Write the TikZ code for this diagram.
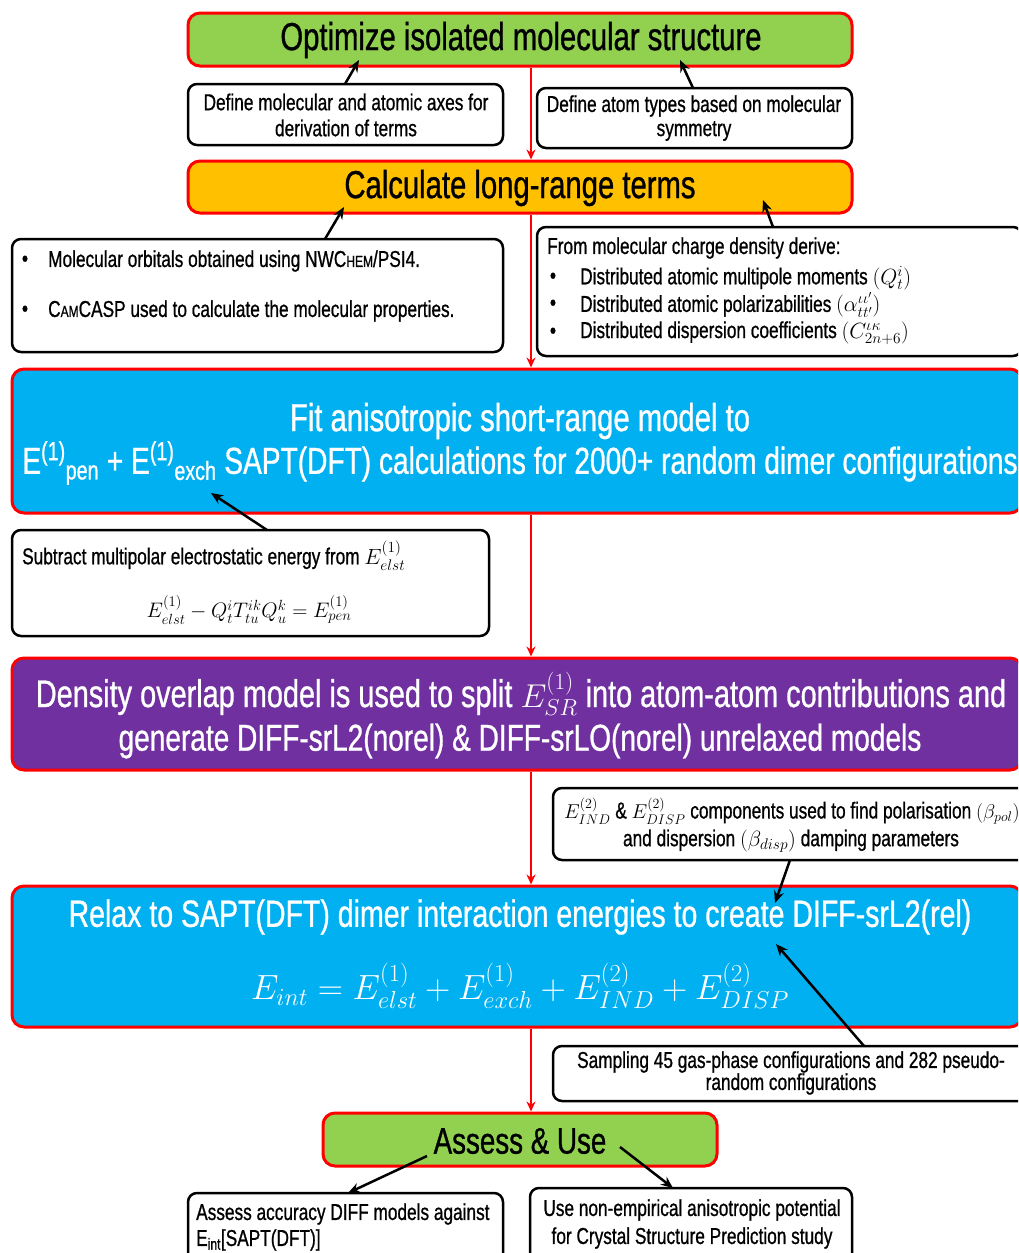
\RequirePackage{fix-cm}
\documentclass[tikz,border=0pt]{standalone}
\usepackage{fontspec}
\setmainfont{Liberation Sans}[FakeStretch=0.75,FakeBold=0.8]
\usepackage{amsmath}
\usetikzlibrary{arrows.meta}
\definecolor{gfill}{HTML}{92D050}
\definecolor{ofill}{HTML}{FFC000}
\definecolor{bfill}{HTML}{00B0F0}
\definecolor{pfill}{HTML}{7030A0}
\definecolor{redl}{HTML}{FF0000}
\newcommand{\mfs}[1]{{\fontsize{22}{22}\selectfont #1}}
\newcommand{\mfss}[1]{{\fontsize{20}{20}\selectfont #1}}
\tikzset{
  mainbox/.style={draw=redl, line width=3pt, rounded corners=12pt, inner sep=0pt},
  notebox/.style={draw=black, line width=2.5pt, fill=white, rounded corners=9pt, inner sep=0pt},
  redarrow/.style={draw=redl, line width=2pt, -{Stealth[length=10pt,width=9pt]}},
  blackarrow/.style={draw=black, line width=2.5pt, -{Stealth[length=12pt,width=10pt]}},
  bigtxt/.style={inner sep=0pt, font=\fontsize{39}{44}\selectfont},
  midtxt/.style={inner sep=0pt, font=\fontsize{38}{42}\selectfont},
  smalltxt/.style={inner sep=0pt, font=\fontsize{23}{26}\selectfont},
}
\begin{document}
\begin{tikzpicture}[x=1pt,y=-1pt]
\useasboundingbox (0,0) rectangle (1018,1253);
\clip (0,0) rectangle (1018,1253);
\fill[white] (0,0) rectangle (1018,1253);

% main boxes
\node[mainbox, fill=gfill, minimum width=664pt, minimum height=53pt] (top) at (520,39.5) {};
\node[mainbox, fill=ofill, minimum width=664pt, minimum height=52pt] (lr) at (520,187) {};
\node[mainbox, fill=bfill, minimum width=1010pt, minimum height=144pt] (fit) at (517,441) {};
\node[mainbox, fill=pfill, minimum width=1010pt, minimum height=112pt] (dom) at (517,714) {};
\node[mainbox, fill=bfill, minimum width=1010pt, minimum height=141pt] (relax) at (517,956.5) {};
\node[mainbox, fill=gfill, minimum width=394pt, minimum height=53pt] (assess) at (520,1139.5) {};

% note boxes
\node[notebox, minimum width=315pt, minimum height=61pt] (axes) at (345.5,114.5) {};
\node[notebox, minimum width=315pt, minimum height=60pt] (types) at (694.5,118) {};
\node[notebox, minimum width=491pt, minimum height=113pt] (lbul) at (257.5,295.5) {};
\node[notebox, minimum width=485pt, minimum height=129pt] (rbul) at (779.5,291.5) {};
\node[notebox, minimum width=477pt, minimum height=106pt] (sub) at (250.5,583) {};
\node[notebox, minimum width=480pt, minimum height=72pt] (e2) at (793,824) {};
\node[notebox, minimum width=480pt, minimum height=55pt] (samp) at (793,1073.5) {};
\node[notebox, minimum width=315pt, minimum height=72pt] (acc) at (345.5,1229) {};
\node[notebox, minimum width=322pt, minimum height=77pt] (use) at (691,1226.5) {};

% texts in main boxes
\node[bigtxt] (t1) at (521,40) {Optimize isolated molecular structure};
\node[bigtxt] (t2) at (520,188) {Calculate long-range terms};
\node[bigtxt, text=white] (t3a) at (520,421) {Fit anisotropic short-range model to};
\node[bigtxt, text=white, font=\fontsize{37.5}{42}\selectfont] (t3b) at (520,463) {E\textsuperscript{(1)}\textsubscript{pen} + E\textsuperscript{(1)}\textsubscript{exch} SAPT(DFT) calculations for 2000+ random dimer configurations};
\node[midtxt, text=white, font=\fontsize{38.5}{44}\selectfont] (t4a) at (521,694) {Density overlap model is used to split {\fontsize{33}{34}\selectfont$E_{SR}^{(1)}$} into atom-atom contributions and};
\node[midtxt, text=white, font=\fontsize{37.4}{42}\selectfont] (t4b) at (520,741) {generate DIFF-srL2(norel) \& DIFF-srLO(norel) unrelaxed models};
\node[midtxt, text=white] (t5a) at (520,917) {Relax to SAPT(DFT) dimer interaction energies to create DIFF-srL2(rel)};
\node[inner sep=0pt, text=white, font=\fontsize{35}{38}\selectfont] (t5b) at (520,986) {$E_{int} = E^{(1)}_{elst} + E^{(1)}_{exch} + E^{(2)}_{IND} + E^{(2)}_{DISP}$};
\node[bigtxt, font=\fontsize{37}{42}\selectfont] (t6) at (520,1141) {Assess \& Use};

% texts in note boxes
\node[smalltxt] (n1a) at (346,102) {Define molecular and atomic axes for};
\node[smalltxt] (n1b) at (346,128) {derivation of terms};
\node[smalltxt] (n2a) at (694,106) {Define atom types based on molecular};
\node[smalltxt] (n2b) at (694,131) {symmetry};
\node[smalltxt] (b1) at (25,261) {\textbullet};
\node[smalltxt, anchor=west] (n3a) at (48,261) {Molecular orbitals obtained using NWC{\fontsize{16}{18}\selectfont HEM}/PSI4.};
\node[smalltxt] (b2) at (25,311) {\textbullet};
\node[smalltxt, anchor=west] (n3b) at (48,311) {C{\fontsize{16}{18}\selectfont AM}CASP used to calculate the molecular properties.};
\node[smalltxt, anchor=west] (n4) at (547,248) {From molecular charge density derive:};
\node[smalltxt] (b3) at (553,278) {\textbullet};
\node[smalltxt, anchor=west] (n4a) at (580,278) {Distributed atomic multipole moments \mfs{$(Q_t^i)$}};
\node[smalltxt] (b4) at (553,305) {\textbullet};
\node[smalltxt, anchor=west] (n4b) at (580,305) {Distributed atomic polarizabilities \mfs{$(\alpha_{tt'}^{\iota\iota'})$}};
\node[smalltxt] (b5) at (553,333) {\textbullet};
\node[smalltxt, anchor=west] (n4c) at (580,333) {Distributed dispersion coefficients \mfs{$(C_{2n+6}^{\iota\kappa})$}};
\node[smalltxt, anchor=west] (n5a) at (22,556) {Subtract multipolar electrostatic energy from \mfs{$E^{(1)}_{elst}$}};
\node[smalltxt, font=\fontsize{21}{22}\selectfont] (n5b) at (249,610) {$E^{(1)}_{elst} - Q^i_t T^{ik}_{tu} Q^k_u = E^{(1)}_{pen}$};
\node[smalltxt, anchor=west] (n6a) at (564,811) {\mfss{$E^{(2)}_{IND}$} \& \mfss{$E^{(2)}_{DISP}$} components used to find polarisation \mfss{$(\beta_{pol})$}};
\node[smalltxt] (n6b) at (791,841) {and dispersion \mfs{$(\beta_{disp})$} damping parameters};
\node[smalltxt] (n7a) at (791,1062) {Sampling 45 gas-phase configurations and 282 pseudo-};
\node[smalltxt] (n7b) at (791,1084) {random configurations};
\node[smalltxt, anchor=west] (n8a) at (196,1214) {Assess accuracy DIFF models against};
\node[smalltxt, anchor=west] (n8b) at (196,1240) {E\textsubscript{int}[SAPT(DFT)]};
\node[smalltxt] (n9a) at (692,1210) {Use non-empirical anisotropic potential};
\node[smalltxt] (n9b) at (692,1238) {for Crystal Structure Prediction study};

% red flow arrows
\coordinate (xl) at (531,0);
\draw[redarrow] (top.south -| xl) -- (lr.north -| xl);
\draw[redarrow] (lr.south -| xl) -- (fit.north -| xl);
\draw[redarrow] (fit.south -| xl) -- (dom.north -| xl);
\draw[redarrow] (dom.south -| xl) -- (relax.north -| xl);
\draw[redarrow] (relax.south -| xl) -- (assess.north -| xl);

% black arrows
\coordinate (p1) at (359,60);
\coordinate (p2) at (680,60);
\coordinate (p3) at (344,207);
\coordinate (p4) at (763,200);
\coordinate (p5) at (211,493);
\coordinate (p6) at (775,903);
\coordinate (p7) at (776,944);
\coordinate (q1) at (345,84);
\coordinate (q2) at (693,88);
\coordinate (q3) at (325,239);
\coordinate (q4) at (773,227);
\coordinate (q5) at (267,530);
\coordinate (q6) at (790,860);
\coordinate (q7) at (864,1046);
\coordinate (s8) at (427,1156);
\coordinate (e8) at (348,1193);
\coordinate (s9) at (620,1147);
\coordinate (e9) at (673,1188);
\draw[blackarrow] (q1) -- (p1);
\draw[blackarrow] (q2) -- (p2);
\draw[blackarrow] (q3) -- (p3);
\draw[blackarrow] (q4) -- (p4);
\draw[blackarrow] (q5) -- (p5);
\draw[blackarrow] (q6) -- (p6);
\draw[blackarrow] (q7) -- (p7);
\draw[blackarrow] (s8) -- (e8);
\draw[blackarrow] (s9) -- (e9);
\end{tikzpicture}
\end{document}
